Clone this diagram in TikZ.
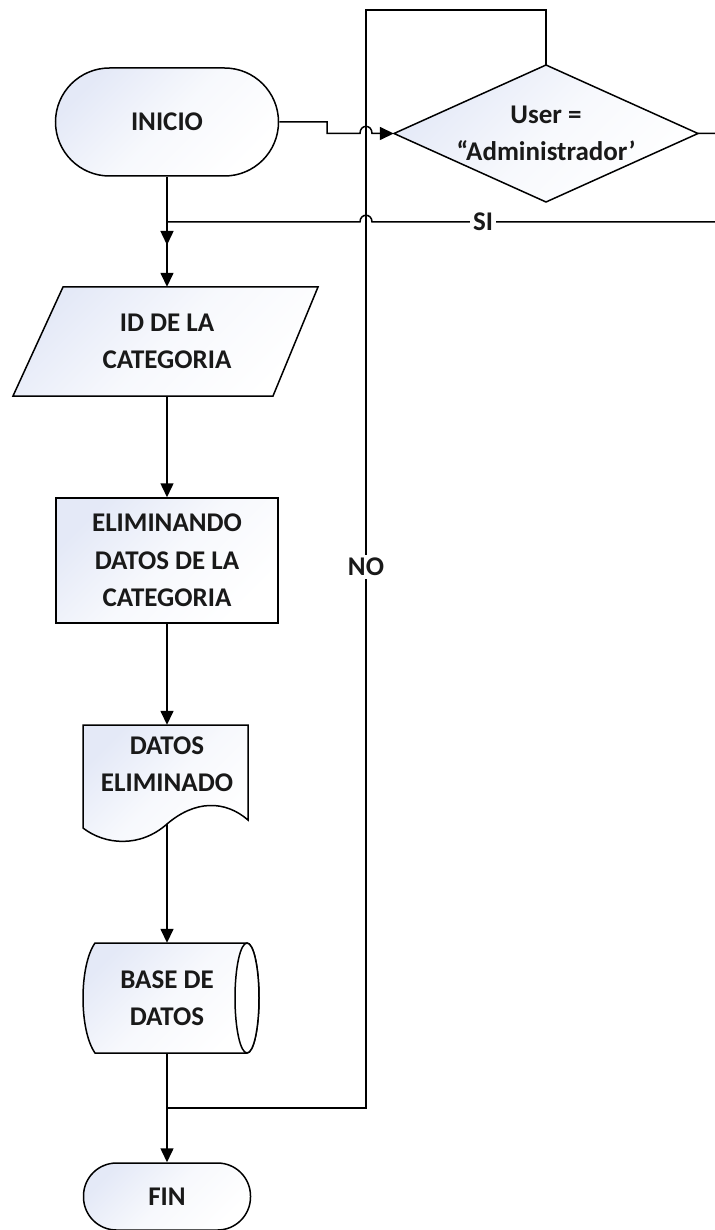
\documentclass[tikz,border=0pt]{standalone}
\usepackage{fontspec}
\setmainfont{Carlito}
\usetikzlibrary{arrows.meta}
\definecolor{fillc}{RGB}{228,233,247}
\definecolor{inkc}{RGB}{25,25,25}
\newcommand\flowfont{\fontsize{27}{37.5}\selectfont\bfseries}
\begin{document}
\begin{tikzpicture}[x=1pt,y=-1pt,
  shp/.style={draw=black, line width=1.5pt, top color=fillc, bottom color=white, middle color=white!70!fillc, shading angle=45},
  hold/.style={rectangle, inner sep=0pt, align=center, font=\flowfont, text=inkc},
  conn/.style={draw=black, line width=1.5pt},
  arr/.style={-{Triangle[length=14pt,width=13pt]}},
  lbl/.style={fill=white, inner sep=3pt, font=\flowfont, text=inkc}]
\useasboundingbox (0,0) rectangle (714,1230);

% shapes drawn directly
\path[shp] (546,65) -- (698,133.5) -- (546,202) -- (394,133.5) -- cycle;
\path[shp] (63,287) -- (318,287) -- (273,396) -- (13,396) -- cycle;
\path[shp] (83,725) -- (248,725) -- (248,820)
   .. controls (225,800) and (195,800) .. (167,824)
   .. controls (140,848) and (105,845) .. (83,828) -- cycle;
\path[shp] (95,943) -- (247,943) arc[start angle=-90, end angle=90, x radius=12, y radius=55]
   -- (95,1053) .. controls (79,1030) and (79,966) .. (95,943) -- cycle;
\draw[line width=1.5pt, fill=white] (247,998) ellipse[x radius=12, y radius=55];

% nodes
\node[hold, shp, rounded corners=54pt, minimum width=223pt, minimum height=108pt] (ini) at (167,122) {INICIO};
\node[hold, minimum width=304pt, minimum height=137pt] (dia) at (546,133.5) {User =\\“Administrador’};
\node[hold, minimum width=305pt, minimum height=109pt] (par) at (167,341.5) {ID DE LA\\CATEGORIA};
\node[hold, shp, minimum width=222pt, minimum height=125pt] (rect) at (167,560.5) {ELIMINANDO\\DATOS DE LA\\CATEGORIA};
\node[hold, minimum width=165pt, minimum height=99pt] (doc) at (167,774.5) {};
\node[hold] (doct) at (167,764) {DATOS\\ELIMINADO};
\node[hold, minimum width=165pt, minimum height=110pt] (cyl) at (167,998) {BASE DE\\DATOS};
\node[hold, shp, rounded corners=33pt, minimum width=167pt, minimum height=67pt] (fin) at (167,1196.5) {FIN};

\coordinate (jsi) at (167,222);
\coordinate (jno) at (167,1108);

% connectors
\draw[conn, arr] (ini.east) -- (327,122) -- (327,133.5) -- (360,133.5)
   .. controls (360,124) and (372,124) .. (372,133.5) -- (dia.west);
\draw[conn] (dia.north) -- (546,10) -- (366,10) -- (366,1108) -- (jno);
\draw[conn, arr] (dia.east) -- (740,133.5) -- (740,222) -- (372,222)
   .. controls (372,213) and (360,213) .. (360,222) -- (jsi) -- (167,245);
\draw[conn, arr] (ini.south) -- (par.north);
\draw[conn, arr] (par.south) -- (rect.north);
\draw[conn, arr] (rect.south) -- (doc.north);
\draw[conn, arr] (doc.south) -- (cyl.north);
\draw[conn, arr] (cyl.south) -- (fin.north);

% labels
\node[lbl] (si) at (483,222) {SI};
\node[lbl] (no) at (366,567) {NO};
\end{tikzpicture}
\end{document}
